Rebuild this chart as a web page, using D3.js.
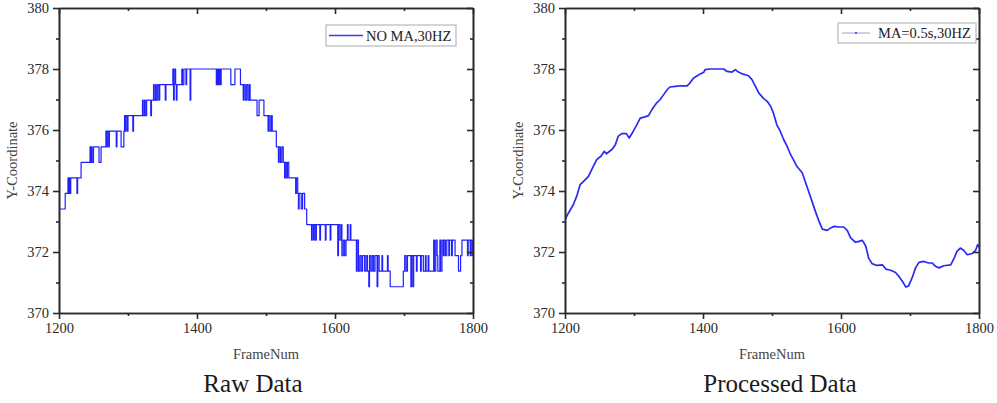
<!DOCTYPE html>
<html>
<head>
<meta charset="utf-8">
<script src="https://cdn.jsdelivr.net/npm/d3@7/dist/d3.min.js"></script>
<style>
  html, body { margin: 0; padding: 0; background: #fff; }
  svg { display: block; }
  .tick text { font-family: "Liberation Serif", "Times New Roman", serif; font-size: 14.5px; fill: #2a2a2a; }
  .domain, .tick line { stroke: #2a2a2a; stroke-width: 1.6px; }
</style>
</head>
<body>
<svg id="chart" width="997" height="403"></svg>
<script>
// Quantised y-levels of the raw tracker output (pixel steps)
const L = [370.86, 371.37, 371.88, 372.39, 372.90, 373.41, 373.92, 374.43,
           374.94, 375.45, 375.96, 376.47, 376.98, 377.49, 378.00];

// Raw series: frame where the value changes, and the level index held from there
const rawFrame = [1200,1209,1213,1214,1215,1216,1217,1226,1227,1232,1245,1246,1247,1248,1250,1258,1261,
  1268,1269,1270,1272,1273,1283,1284,1290,1294,1295,1296,1297,1299,1300,1307,1308,
  1321,1322,1324,1325,1327,1333,1334,1337,1338,1340,1341,1343,1345,1346,1354,1355,
  1365,1366,1367,1369,1370,1371,1378,1379,1381,1384,1385,1390,1391,
  1428,1429,1430,1431,1432,1433,1434,1435,1449,1455,1463,1467,1468,1470,1472,1474,1476,1477,
  1487,1490,1497,1503,1504,1506,1508,1509,1515,1518,1519,1521,1523,1525,1527,1528,1530,1531,1533,
  1543,1544,1546,1547,1548,1551,1553,1556,1559,1566,1567,1569,1570,1572,1573,1578,1579,1586,1587,1593,1594,
  1604,1605,1607,1609,1610,1612,1614,1616,1618,1619,1622,1623,1631,1632,1634,1636,1638,1640,1643,1645,1647,
  1649,1650,1652,1654,1656,1658,1661,1662,1664,1668,1669,1676,1677,1680,1699,1701,1703,1705,1710,1711,1713,
  1714,1718,1719,1724,1725,1728,1731,1732,1735,1736,1743,1744,1746,1748,1749,1752,1753,1755,1757,1758,1760,
  1762,1765,1766,1769,1770,1774,1779,1782,1784,1792,1793,1796,1797,1799,1800];
const rawLevel = [5,6,7,6,7,6,7,6,7,8,9,8,9,8,9,8,9,
  10,9,10,9,10,9,10,9,10,11,10,11,10,11,10,11,
  12,11,12,11,12,11,12,13,12,13,12,13,12,13,12,13,
  14,12,14,13,12,13,14,13,14,13,14,12,14,
  13,14,13,14,13,14,13,14,13,14,13,12,13,12,13,12,13,12,
  11,12,11,10,11,10,11,10,9,8,9,8,9,8,7,8,7,8,7,
  6,7,6,5,6,5,6,5,4,3,4,3,4,3,4,3,4,3,4,3,4,
  2,4,3,4,2,3,2,3,4,3,4,3,1,3,1,2,1,2,1,2,1,
  0,2,1,2,1,2,0,2,1,2,1,2,1,0,1,2,1,2,0,2,0,
  2,1,2,1,2,1,2,1,2,1,3,1,3,2,1,3,1,3,2,3,2,
  3,2,3,2,3,2,1,2,3,2,3,2,3,2,2];

// Moving-average series (0.5 s window at 30 Hz)
const maFrame = [1200,1205,1212,1217,1222,1228,1234,1241,1246,1252,1257,1260,1268,1273,1277,1282,1289,1293,
  1299,1304,1309,1316,1321,1326,1333,1338,1343,1348,1352,1360,1367,1377,1381,1386,1394,1401,1403,
  1410,1430,1435,1442,1447,1450,1456,1466,1471,1476,1481,1488,1493,1498,1502,1507,1512,1517,1522,
  1527,1531,1536,1544,1548,1553,1558,1562,1568,1573,1580,1585,1590,1597,1604,1609,1614,1621,1626,
  1631,1636,1640,1645,1652,1660,1665,1672,1679,1684,1689,1694,1698,1703,1708,1713,1720,1727,1732,
  1737,1742,1749,1759,1764,1768,1773,1778,1783,1790,1795,1798,1800];
const maY = [373.06,373.28,373.55,373.83,374.21,374.34,374.48,374.81,375.03,375.14,375.30,375.22,375.36,
  375.52,375.79,375.88,375.88,375.74,375.96,376.17,376.39,376.43,376.47,376.67,376.89,377.00,377.16,
  377.32,377.41,377.43,377.45,377.45,377.54,377.70,377.81,377.89,377.98,378.00,378.00,377.92,377.90,
  377.98,377.92,377.85,377.78,377.65,377.43,377.21,377.03,376.94,376.78,376.56,376.17,375.96,375.68,
  375.46,375.19,375.03,374.81,374.59,374.32,373.99,373.66,373.39,373.01,372.75,372.71,372.79,372.84,
  372.82,372.82,372.71,372.46,372.32,372.35,372.38,372.19,371.80,371.62,371.56,371.58,371.44,371.40,
  371.33,371.20,371.04,370.85,370.89,371.15,371.48,371.66,371.69,371.64,371.64,371.53,371.48,371.55,
  371.58,371.80,372.02,372.13,372.05,371.91,371.95,372.05,372.24,372.16];

const xMajor = [1200, 1400, 1600, 1800];
const xMinor = [1300, 1500, 1700];
const yMajor = [370, 372, 374, 376, 378, 380];
const yMinor = [371, 373, 375, 377, 379];

const panels = [
  { left: 59,  right: 473, caption: "Raw Data", legend: "NO MA,30HZ",
    series: rawFrame.map((f, i) => ({ f, v: L[rawLevel[i]] })), step: true,
    lx0: 326, ly0: 25, lw: 130, lh: 21 },
  { left: 565, right: 979, caption: "Processed Data", legend: "MA=0.5s,30HZ",
    series: maFrame.map((f, i) => ({ f, v: maY[i] })), step: false,
    lx0: 838, ly0: 23, lw: 138, lh: 20 }
];
const plotTop = 8, plotBottom = 313;
const svg = d3.select("#chart");
const serif = '"Liberation Serif", "Times New Roman", serif';

panels.forEach((p, pi) => {
  const x = d3.scaleLinear().domain([1200, 1800]).range([p.left, p.right]);
  const y = d3.scaleLinear().domain([370, 380]).range([plotBottom, plotTop]);
  const g = svg.append("g");

  const clipId = "clip" + pi;
  svg.append("clipPath").attr("id", clipId).append("rect")
    .attr("x", p.left).attr("y", plotTop).attr("width", p.right - p.left).attr("height", plotBottom - plotTop);

  // data line
  const line = d3.line().x(d => x(d.f)).y(d => y(d.v))
    .curve(p.step ? d3.curveStepAfter : d3.curveLinear);
  g.append("path").datum(p.series)
    .attr("clip-path", `url(#${clipId})`)
    .attr("fill", "none")
    .attr("stroke", p.step ? "#1f1fff" : "#2a2af5")
    .attr("stroke-width", p.step ? 1.2 : 1.7)
    .attr("stroke-linejoin", "round")
    .attr("d", line);

  // axes: left/bottom with outward ticks and labels, top/right mirrored inward
  const fmt = d3.format("d");
  g.append("g").attr("transform", `translate(0,${plotBottom})`)
    .call(d3.axisBottom(x).tickValues(xMajor).tickFormat(fmt).tickSize(6).tickSizeOuter(0).tickPadding(4));
  g.append("g").attr("transform", `translate(0,${plotBottom})`)
    .call(d3.axisBottom(x).tickValues(xMinor).tickFormat("").tickSize(3).tickSizeOuter(0));
  g.append("g").attr("transform", `translate(${p.left},0)`)
    .call(d3.axisLeft(y).tickValues(yMajor).tickFormat(fmt).tickSize(6).tickSizeOuter(0).tickPadding(4));
  g.append("g").attr("transform", `translate(${p.left},0)`)
    .call(d3.axisLeft(y).tickValues(yMinor).tickFormat("").tickSize(3).tickSizeOuter(0));
  g.append("g").attr("transform", `translate(0,${plotTop})`)
    .call(d3.axisTop(x).tickValues(xMajor).tickFormat("").tickSize(-6).tickSizeOuter(0));
  g.append("g").attr("transform", `translate(0,${plotTop})`)
    .call(d3.axisTop(x).tickValues(xMinor).tickFormat("").tickSize(-3).tickSizeOuter(0));
  g.append("g").attr("transform", `translate(${p.right},0)`)
    .call(d3.axisRight(y).tickValues(yMajor).tickFormat("").tickSize(-6).tickSizeOuter(0));
  g.append("g").attr("transform", `translate(${p.right},0)`)
    .call(d3.axisRight(y).tickValues(yMinor).tickFormat("").tickSize(-3).tickSizeOuter(0));

  // axis titles
  const cx = (p.left + p.right) / 2;
  g.append("text").attr("x", cx).attr("y", 359)
    .attr("text-anchor", "middle").attr("font-family", serif).attr("font-size", 14.5)
    .attr("fill", "#444").text("FrameNum");
  g.append("text").attr("transform", `translate(${p.left - 42},${(plotTop + plotBottom) / 2}) rotate(-90)`)
    .attr("text-anchor", "middle").attr("font-family", serif).attr("font-size", 14.5)
    .attr("fill", "#444").text("Y-Coordinate");

  // caption under the panel
  g.append("text").attr("x", p.left + (pi === 0 ? 194 : 215)).attr("y", 392)
    .attr("text-anchor", "middle").attr("font-family", serif).attr("font-size", 25)
    .attr("fill", "#1a1a1a").text(p.caption);

  // legend
  const lg = g.append("g");
  lg.append("rect").attr("x", p.lx0).attr("y", p.ly0).attr("width", p.lw).attr("height", p.lh)
    .attr("fill", "#fff").attr("stroke", "#aaa").attr("stroke-width", 1);
  const ly = p.ly0 + p.lh / 2;
  if (p.step) {
    lg.append("line").attr("x1", p.lx0 + 3).attr("x2", p.lx0 + 37).attr("y1", ly).attr("y2", ly)
      .attr("stroke", "#3a3aff").attr("stroke-width", 1.4);
  } else {
    lg.append("line").attr("x1", p.lx0 + 4).attr("x2", p.lx0 + 32).attr("y1", ly).attr("y2", ly)
      .attr("stroke", "#9aa0d8").attr("stroke-width", 1);
    lg.append("circle").attr("cx", p.lx0 + 18).attr("cy", ly).attr("r", 1)
      .attr("fill", "#2a2af5");
  }
  lg.append("text").attr("x", p.lx0 + 40).attr("y", ly + 5)
    .attr("font-family", serif).attr("font-size", 14.5).attr("fill", "#222").text(p.legend);
});
</script>
</body>
</html>
